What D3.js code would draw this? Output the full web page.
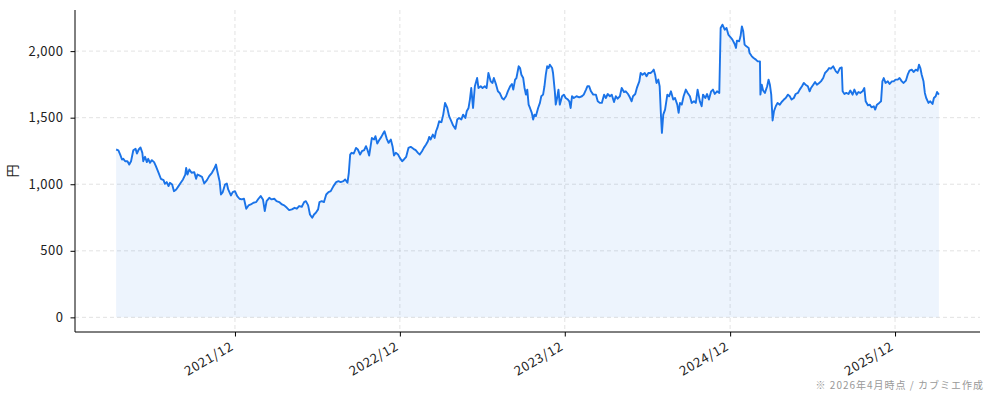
<!DOCTYPE html>
<html>
<head>
<meta charset="utf-8">
<script src="https://cdn.jsdelivr.net/npm/d3@7"></script>
<style>
  html, body { margin: 0; padding: 0; background: #fff; }
  svg { display: block; font-family: "Noto Sans CJK JP", "Noto Sans", sans-serif; }
</style>
</head>
<body>
<svg id="chart" width="994" height="401"></svg>
<script>
// first trading day shown, everything else is days after it
const START_DATE = "2021-03-13";

const days = [
  0, 5, 9, 13, 16, 20, 25, 29, 33, 38, 43, 46, 50, 54, 58, 60, 64, 68, 71, 75,
  79, 84, 88, 94, 99, 105, 108, 112, 116, 119, 124, 128, 133, 138, 143, 148, 153, 155, 158, 162,
  167, 173, 177, 180, 184, 190, 195, 201, 206, 212, 217, 221, 224, 229, 232, 236, 241, 245, 248, 254,
  258, 263, 268, 273, 278, 283, 288, 293, 298, 304, 310, 315, 320, 325, 329, 333, 339, 344, 350, 355,
  361, 367, 372, 378, 383, 389, 395, 400, 405, 411, 416, 420, 425, 429, 434, 438, 442, 447, 450, 455,
  460, 465, 470, 475, 481, 487, 492, 497, 503, 507, 512, 515, 518, 521, 526, 531, 535, 540, 544, 549,
  553, 556, 560, 563, 566, 571, 574, 578, 582, 587, 591, 594, 599, 603, 608, 612, 615, 619, 624, 628,
  633, 637, 642, 647, 652, 658, 663, 668, 672, 677, 681, 686, 690, 693, 696, 701, 705, 708, 711, 715,
  720, 724, 728, 733, 737, 742, 746, 751, 755, 759, 764, 768, 773, 776, 780, 783, 786, 790, 794, 799,
  802, 807, 811, 816, 820, 824, 829, 833, 836, 841, 845, 849, 854, 858, 863, 867, 872, 876, 879, 883,
  886, 891, 894, 897, 901, 904, 907, 910, 913, 916, 920, 923, 926, 929, 934, 938, 941, 945, 948, 951,
  954, 957, 960, 965, 967, 971, 973, 976, 979, 982, 987, 991, 995, 1000, 1003, 1006, 1009, 1013, 1019, 1025,
  1031, 1035, 1040, 1043, 1047, 1051, 1056, 1062, 1066, 1071, 1075, 1080, 1084, 1088, 1093, 1097, 1102, 1106, 1110, 1115,
  1119, 1124, 1128, 1133, 1137, 1141, 1144, 1149, 1153, 1158, 1161, 1165, 1170, 1174, 1178, 1183, 1187, 1190, 1193, 1196,
  1200, 1203, 1206, 1208, 1211, 1215, 1220, 1224, 1228, 1233, 1237, 1242, 1245, 1248, 1252, 1256, 1261, 1265, 1270, 1274,
  1279, 1283, 1287, 1292, 1296, 1299, 1304, 1308, 1312, 1317, 1321, 1325, 1330, 1335, 1338, 1342, 1347, 1351, 1355, 1360,
  1364, 1369, 1372, 1374, 1379, 1382, 1385, 1388, 1391, 1395, 1400, 1402, 1407, 1411, 1416, 1420, 1425, 1426, 1429, 1432,
  1436, 1441, 1444, 1447, 1450, 1453, 1456, 1460, 1464, 1469, 1473, 1478, 1482, 1487, 1491, 1495, 1500, 1504, 1509, 1513,
  1518, 1522, 1526, 1531, 1535, 1538, 1543, 1547, 1551, 1556, 1560, 1565, 1569, 1574, 1578, 1582, 1587, 1593, 1597, 1602,
  1606, 1608, 1612, 1616, 1621, 1625, 1630, 1634, 1639, 1643, 1647, 1652, 1656, 1659, 1664, 1668, 1672, 1677, 1680, 1684,
  1689, 1693, 1696, 1699, 1703, 1708, 1712, 1717, 1721, 1725, 1730, 1734, 1739, 1743, 1748, 1752, 1756, 1761, 1765, 1770,
  1774, 1777, 1780, 1783, 1787, 1790, 1793, 1798, 1802, 1807, 1810, 1814, 1817, 1821
];

const prices = [
  1261, 1255, 1223, 1186, 1191, 1173, 1173, 1148, 1173, 1255, 1266, 1231, 1261, 1276, 1236, 1173, 1206, 1166, 1191, 1161,
  1181, 1166, 1136, 1086, 1041, 1031, 1003, 1016, 986, 1011, 998, 948, 961, 986, 1011, 1036, 1073, 1123, 1073, 1111,
  1086, 1091, 1041, 1073, 1066, 1056, 1006, 1031, 1061, 1086, 1116, 1148, 1098, 1023, 923, 941, 998, 1006, 961, 916,
  941, 948, 911, 891, 886, 891, 816, 841, 848, 861, 866, 891, 911, 886, 798, 873, 898, 886, 891, 873,
  866, 848, 841, 823, 806, 811, 823, 816, 836, 831, 866, 873, 841, 773, 748, 773, 786, 811, 866, 873,
  866, 923, 941, 948, 986, 1016, 1023, 1016, 1023, 1036, 1011, 1086, 1223, 1236, 1231, 1273, 1261, 1223, 1248, 1256,
  1286, 1261, 1216, 1281, 1348, 1336, 1361, 1306, 1331, 1356, 1381, 1398, 1341, 1311, 1336, 1281, 1216, 1236, 1223, 1198,
  1173, 1186, 1206, 1273, 1281, 1266, 1256, 1236, 1223, 1248, 1273, 1298, 1323, 1356, 1336, 1373, 1348, 1398, 1423, 1473,
  1466, 1523, 1611, 1573, 1511, 1473, 1441, 1416, 1486, 1498, 1486, 1523, 1498, 1548, 1573, 1636, 1723, 1573, 1736, 1798,
  1723, 1736, 1723, 1736, 1723, 1836, 1773, 1761, 1798, 1748, 1698, 1686, 1648, 1636, 1661, 1698, 1736, 1753, 1711, 1786,
  1798, 1886, 1873, 1823, 1798, 1723, 1673, 1711, 1598, 1573, 1536, 1486, 1523, 1511, 1573, 1611, 1661, 1673, 1736, 1823,
  1886, 1873, 1898, 1873, 1836, 1698, 1598, 1648, 1711, 1598, 1661, 1673, 1648, 1636, 1623, 1573, 1661, 1648, 1661, 1653,
  1661, 1673, 1711, 1736, 1736, 1698, 1673, 1673, 1623, 1611, 1611, 1673, 1648, 1678, 1661, 1673, 1618, 1661, 1643, 1661,
  1723, 1693, 1698, 1678, 1653, 1623, 1661, 1678, 1728, 1773, 1836, 1823, 1836, 1811, 1836, 1836, 1848, 1861, 1823, 1761,
  1786, 1736, 1511, 1386, 1523, 1561, 1673, 1661, 1698, 1636, 1648, 1598, 1536, 1611, 1598, 1661, 1711, 1686, 1661, 1611,
  1623, 1611, 1711, 1623, 1586, 1673, 1648, 1678, 1636, 1698, 1711, 1678, 1698, 1686, 2174, 2199, 2161, 2174, 2124, 2104,
  2086, 2054, 2024, 2079, 2074, 2111, 2186, 2149, 2049, 2036, 2024, 1986, 1961, 1948, 1936, 1923, 1923, 1673, 1748, 1704,
  1686, 1736, 1786, 1748, 1673, 1479, 1548, 1586, 1611, 1598, 1618, 1636, 1648, 1673, 1661, 1636, 1648, 1678, 1686, 1711,
  1736, 1761, 1748, 1736, 1698, 1723, 1748, 1768, 1748, 1761, 1773, 1798, 1836, 1853, 1873, 1868, 1886, 1848, 1836, 1873,
  1878, 1698, 1678, 1686, 1678, 1704, 1673, 1711, 1673, 1693, 1686, 1698, 1723, 1623, 1593, 1598, 1578, 1586, 1561, 1598,
  1611, 1623, 1773, 1798, 1761, 1773, 1753, 1773, 1773, 1786, 1786, 1798, 1773, 1761, 1778, 1823, 1853, 1861, 1843, 1861,
  1853, 1898, 1873, 1823, 1773, 1686, 1648, 1611, 1623, 1603, 1648, 1661, 1693, 1673
];

const tickDates = ["2021-12-01", "2022-12-01", "2023-12-01", "2024-12-01", "2025-12-01"];
const yTicks = [0, 500, 1000, 1500, 2000];
const yLabel = "円";
const footnote = "※ 2026年4月時点 / カブミエ作成";

const parseDate = d3.timeParse("%Y-%m-%d");
const start = parseDate(START_DATE);
const data = days.map((d, i) => ({ date: d3.timeDay.offset(start, d), value: prices[i] }));

const margin = { top: 10, right: 14, bottom: 69, left: 75 }
  , width = 994 - margin.left - margin.right
  , height = 401 - margin.top - margin.bottom;

// 5% padding on both sides like the original plot
const xExt = d3.extent(data, d => d.date);
const xPad = (xExt[1] - xExt[0]) * 0.05;
const x = d3.scaleTime()
  .domain([new Date(+xExt[0] - xPad), new Date(+xExt[1] + xPad)])
  .range([0, width]);

const yMax = d3.max(data, d => d.value);
const y = d3.scaleLinear()
  .domain([-yMax * 0.05, yMax * 1.05])
  .range([height, 0]);

const svg = d3.select('#chart');
svg.append('rect').attr('width', 994).attr('height', 401).attr('fill', '#fff');

const main = svg.append('g')
  .attr('transform', 'translate(' + margin.left + ',' + margin.top + ')');

// grid
main.append('g')
  .selectAll('line')
  .data(yTicks)
  .enter().append('line')
  .attr('x1', 0).attr('x2', width)
  .attr('y1', d => y(d)).attr('y2', d => y(d))
  .attr('stroke', '#d4d4d4')
  .attr('stroke-width', 0.8)
  .attr('stroke-dasharray', '4,3')
  .attr('opacity', 0.8);

main.append('g')
  .selectAll('line')
  .data(tickDates.map(parseDate))
  .enter().append('line')
  .attr('x1', d => x(d)).attr('x2', d => x(d))
  .attr('y1', 0).attr('y2', height)
  .attr('stroke', '#d4d4d4')
  .attr('stroke-width', 0.8)
  .attr('stroke-dasharray', '4,3')
  .attr('opacity', 0.8);

const area = d3.area()
  .x(d => x(d.date))
  .y0(y(0))
  .y1(d => y(d.value));

main.append('path')
  .datum(data)
  .attr('d', area)
  .attr('fill', '#1a73e8')
  .attr('fill-opacity', 0.08);

const line = d3.line()
  .x(d => x(d.date))
  .y(d => y(d.value));

main.append('path')
  .datum(data)
  .attr('d', line)
  .attr('fill', 'none')
  .attr('stroke', '#1a73e8')
  .attr('stroke-width', 1.9)
  .attr('stroke-linejoin', 'round');

// axes
const xAxis = d3.axisBottom(x)
  .tickValues(tickDates.map(parseDate))
  .tickFormat(d3.timeFormat('%Y/%m'))
  .tickSize(4.5);

const gx = main.append('g')
  .attr('transform', 'translate(0,' + height + ')')
  .call(xAxis);
gx.select('.domain').attr('stroke', '#000').attr('stroke-width', 1)
  .attr('d', 'M0,0H' + width);
gx.selectAll('.tick line').attr('stroke', '#000');
gx.selectAll('.tick text')
  .attr('font-size', 13)
  .attr('letter-spacing', 0.8)
  .attr('fill', '#222')
  .attr('font-family', '"Noto Sans CJK JP", sans-serif')
  .attr('text-anchor', 'end')
  .attr('x', 0).attr('y', 0).attr('dy', 0)
  .attr('transform', 'translate(-1,17) rotate(-30)');

const yAxis = d3.axisLeft(y)
  .tickValues(yTicks)
  .tickFormat(d3.format(','))
  .tickSize(4.5)
  .tickPadding(7);

const gy = main.append('g').call(yAxis);
gy.select('.domain').attr('stroke', '#000').attr('stroke-width', 1)
  .attr('d', 'M0,0V' + height);
gy.selectAll('.tick line').attr('stroke', '#000');
gy.selectAll('.tick text')
  .attr('font-size', 13)
  .attr('letter-spacing', 0.5)
  .attr('fill', '#222')
  .attr('font-family', '"Noto Sans CJK JP", sans-serif');

svg.append('text')
  .attr('transform', 'translate(17,' + (margin.top + height / 2) + ') rotate(-90)')
  .attr('text-anchor', 'middle')
  .attr('font-size', 13)
  .attr('fill', '#222')
  .text(yLabel);

svg.append('text')
  .attr('x', 984)
  .attr('y', 389)
  .attr('text-anchor', 'end')
  .attr('font-size', 10)
  .attr('letter-spacing', 1)
  .attr('fill', '#999')
  .text(footnote);
</script>
</body>
</html>
